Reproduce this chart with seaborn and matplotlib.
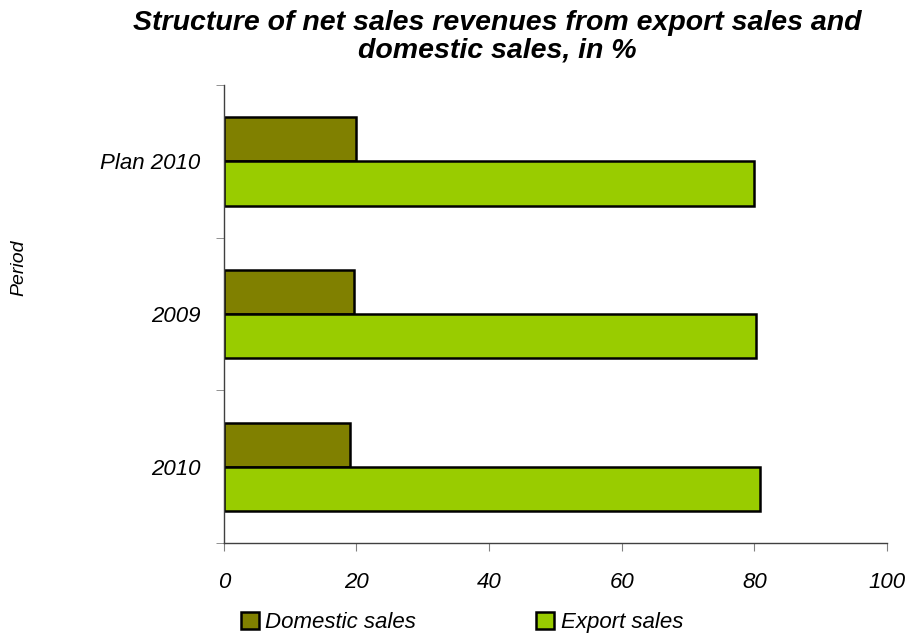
"""Structure of net sales revenues - export vs domestic"""

import pandas as pd
import matplotlib.pyplot as plt
import seaborn as sns
from matplotlib.ticker import FixedLocator

periods = ['Plan 2010', '2009', '2010']
domestic = [20.0, 19.7, 19.1]
export = [80.0, 80.3, 80.9]
series_names = ['Domestic sales', 'Export sales']
colors = ['#808000', '#99CC00']
x_ticks = [0, 20, 40, 60, 80, 100]

sns.set_style('white')
plt.rcParams['font.family'] = ['Liberation Sans', 'DejaVu Sans']
plt.rcParams['text.color'] = 'black'
plt.rcParams['xtick.labelcolor'] = 'black'
plt.rcParams['ytick.labelcolor'] = 'black'


def main():
    df = pd.DataFrame({
        'Period': periods * 2,
        'Share': domestic + export,
        'Series': [series_names[0]] * len(periods) + [series_names[1]] * len(periods),
    })

    fig = plt.figure(figsize=(9.06, 6.39), dpi=100)
    ax = fig.add_axes([0.247, 0.150, 0.732, 0.717])

    sns.barplot(data=df, y='Period', x='Share', hue='Series', order=periods,
                hue_order=series_names, palette=colors, orient='h', width=0.58,
                edgecolor='black', linewidth=1.8, saturation=1, ax=ax)

    ax.set_xlim(0, 100)
    ax.set_ylim(len(periods) - 0.5, -0.5)
    ax.set_xticks(x_ticks)
    ax.set_xticklabels([str(t) for t in x_ticks], fontsize=16, style='italic')
    ax.set_yticklabels(periods, fontsize=16, style='italic')
    ax.yaxis.set_minor_locator(FixedLocator([i - 0.5 for i in range(len(periods) + 1)]))
    ax.tick_params(axis='y', which='major', length=0, pad=17)
    ax.tick_params(axis='y', which='minor', length=6, color='#808080', direction='out', left=True)
    ax.tick_params(axis='x', length=6, color='#808080', direction='out', bottom=True, pad=15)
    ax.set_xlabel('')
    ax.set_ylabel('')

    for side in ['top', 'right']:
        ax.spines[side].set_visible(False)
    for side in ['left', 'bottom']:
        ax.spines[side].set_color('#404040')
        ax.spines[side].set_linewidth(1.0)

    fig.text(0.021, 1 - 268 / 639, 'Period', rotation=90, ha='center', va='center',
             fontsize=14, style='italic')
    fig.suptitle('Structure of net sales revenues from export sales and\ndomestic sales, in %',
                 x=0.549, y=0.984, fontsize=20.5, fontweight='bold', style='italic',
                 linespacing=1.05)

    handles, labels = ax.get_legend_handles_labels()
    ax.get_legend().remove()
    fig.legend(handles, labels, loc='lower center', bbox_to_anchor=(0.51, -0.022),
               ncol=2, frameon=False, handlelength=0.8, handleheight=0.8,
               handletextpad=0.3, columnspacing=5.4,
               prop={'size': 16, 'style': 'italic'})

    fig.savefig('out.png', dpi=100)


if __name__ == "__main__":
    main()
